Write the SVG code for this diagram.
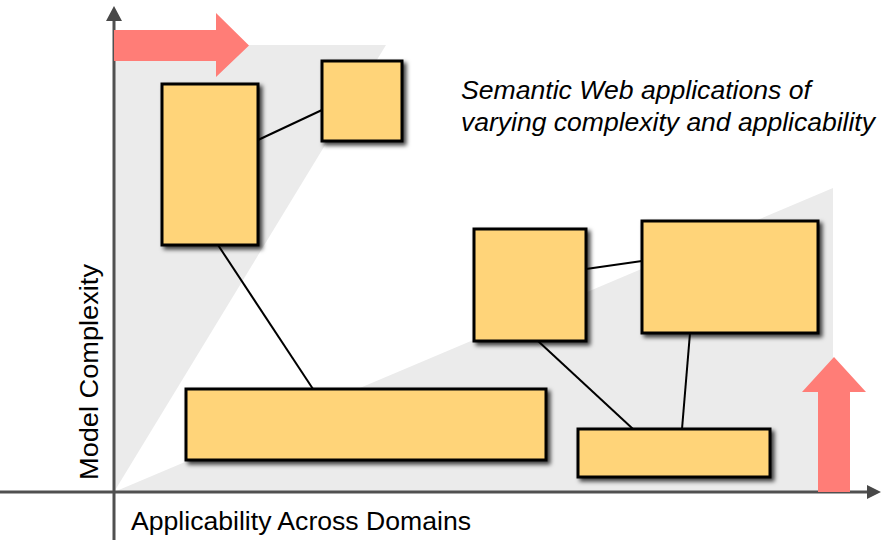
<svg xmlns="http://www.w3.org/2000/svg" width="881" height="540" viewBox="0 0 881 540">
<defs>
<filter id="sh" x="-20%" y="-20%" width="140%" height="140%">
<feDropShadow dx="3" dy="3" stdDeviation="2" flood-color="#000" flood-opacity="0.75"/>
</filter>
<style>
.box{fill:#ffd479;stroke:#000;stroke-width:3;filter:url(#sh)}
.con{stroke:#000;stroke-width:2;fill:none}
.zone{fill:#ebebeb}
.axis{stroke:#505050;stroke-width:3;fill:none}
.head{fill:#484848}
.red{fill:#ff7d77}
.lbl{font-family:"Liberation Sans",Arial,sans-serif;font-size:26.5px;fill:#000}
</style>
</defs>
<rect width="881" height="540" fill="#fff"/>
<g id="zones">
<polygon class="zone" points="114,45 386,45 114,492"/>
<polygon class="zone" points="114,492 833,188 833,492"/>
</g>
<g id="axes">
<line class="axis" x1="114" y1="18" x2="114" y2="540"/>
<polygon class="head" points="114,6 106,21 122,21"/>
<line class="axis" x1="0" y1="492" x2="869" y2="492"/>
<polygon class="head" points="881,492 867,485 867,499"/>
</g>
<g id="red-arrows">
<polygon class="red" points="114,30 216,30 216,13 249,45.5 216,77 216,61 114,61"/>
<polygon class="red" points="818,492 818,392 802,392 834,357 866,392 850,392 850,492"/>
</g>
<g id="connectors">
<line class="con" x1="258" y1="140" x2="322" y2="110"/>
<line class="con" x1="218" y1="245" x2="313" y2="389"/>
<line class="con" x1="586" y1="269" x2="642" y2="261"/>
<line class="con" x1="538" y1="341" x2="633" y2="429"/>
<line class="con" x1="690" y1="333" x2="682" y2="429"/>
</g>
<g id="n1"><rect class="box" x="162" y="84" width="96" height="161"/></g>
<g id="n2"><rect class="box" x="322" y="61" width="80" height="80"/></g>
<g id="n3"><rect class="box" x="474" y="229" width="112" height="112"/></g>
<g id="n4"><rect class="box" x="642" y="221" width="176" height="112"/></g>
<g id="n5"><rect class="box" x="186" y="389" width="360" height="71"/></g>
<g id="n6"><rect class="box" x="578" y="429" width="192" height="48"/></g>
<g id="labels">
<text class="lbl" x="461" y="99" font-style="italic" textLength="350" lengthAdjust="spacingAndGlyphs">Semantic Web applications of</text>
<text class="lbl" x="461" y="131" font-style="italic" textLength="414" lengthAdjust="spacingAndGlyphs">varying complexity and applicability</text>
<text class="lbl" transform="translate(98,480) rotate(-90)" x="0" y="0" textLength="216" lengthAdjust="spacingAndGlyphs">Model Complexity</text>
<text class="lbl" x="131" y="530" textLength="340" lengthAdjust="spacingAndGlyphs">Applicability Across Domains</text>
</g>
</svg>
